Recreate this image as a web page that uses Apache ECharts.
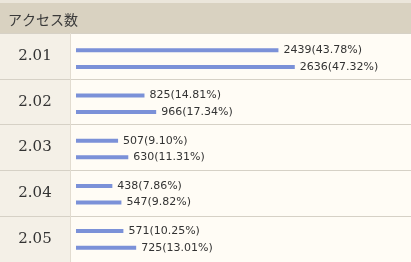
<!DOCTYPE html>
<html>
<head>
<meta charset="utf-8">
<script src="https://cdn.jsdelivr.net/npm/echarts@6/dist/echarts.min.js"></script>
<style>
html,body{margin:0;padding:0;background:#fffcf5;}
#chart{width:411px;height:262px;}
</style>
</head>
<body>
<div id="chart"></div>
<script>
const headerTitle = 'アクセス数';
const categories = ['2.01', '2.02', '2.03', '2.04', '2.05'];
const series1Values = [2439, 825, 507, 438, 571];
const series1Pct = ['43.78', '14.81', '9.10', '7.86', '10.25'];
const series2Values = [2636, 966, 630, 547, 725];
const series2Pct = ['47.32', '17.34', '11.31', '9.82', '13.01'];

const chart = echarts.init(document.getElementById('chart'));
const labelStyle = {
  show: true, position: 'right', distance: 5,
  fontFamily: 'DejaVu Sans', fontSize: 11, color: '#333'
};
const splitLine = { show: true, interval: 0, lineStyle: { color: '#d6d1c6', width: 1 } };
chart.setOption({
  animation: false,
  backgroundColor: '#fffcf5',
  title: {
    text: headerTitle, left: 3, top: 8,
    textStyle: { fontFamily: 'Noto Sans CJK JP', fontSize: 14, fontWeight: 'normal', color: '#3a3a3a' }
  },
  graphic: [
    { type: 'rect', z: 1, shape: { x: 0, y: 0, width: 411, height: 33 }, style: { fill: '#d9d2c1' } },
    { type: 'rect', z: 1, shape: { x: 0, y: 0, width: 411, height: 3 }, style: { fill: '#ebe6db' } },
    { type: 'rect', z: 1, shape: { x: 70, y: 33, width: 1, height: 229 }, style: { fill: '#e2dcd0' } }
  ],
  grid: [
    { left: 0, top: 33, width: 70, bottom: -1, show: true, backgroundColor: '#f4f0e7', borderWidth: 0 },
    { left: 71, top: 33, right: 0, bottom: -1, show: true, backgroundColor: '#fffcf5', borderWidth: 0 },
    { left: 76, top: 36, right: 3, bottom: -4 }
  ],
  xAxis: [
    { gridIndex: 0, type: 'value', show: false },
    { gridIndex: 1, type: 'value', show: false },
    { gridIndex: 2, type: 'value', min: 0, max: 4000, show: false }
  ],
  yAxis: [
    { gridIndex: 0, type: 'category', inverse: true, data: categories, position: 'right',
      axisLine: { show: false }, axisTick: { show: false },
      axisLabel: { inside: true, interval: 0, margin: 35, align: 'center', fontFamily: 'DejaVu Serif', fontSize: 15, color: '#333' },
      splitLine: splitLine },
    { gridIndex: 1, type: 'category', inverse: true, data: categories,
      axisLine: { show: false }, axisTick: { show: false }, axisLabel: { show: false },
      splitLine: splitLine },
    { gridIndex: 2, type: 'category', inverse: true, data: categories, show: false }
  ],
  series: [
    { type: 'bar', xAxisIndex: 2, yAxisIndex: 2, data: series1Values, barWidth: 4, barGap: '315%',
      itemStyle: { color: '#7b91d8' },
      label: Object.assign({}, labelStyle, { formatter: p => p.value + '(' + series1Pct[p.dataIndex] + '%)' }) },
    { type: 'bar', xAxisIndex: 2, yAxisIndex: 2, data: series2Values, barWidth: 4,
      itemStyle: { color: '#7b91d8' },
      label: Object.assign({}, labelStyle, { formatter: p => p.value + '(' + series2Pct[p.dataIndex] + '%)' }) }
  ]
});
</script>
</body>
</html>
